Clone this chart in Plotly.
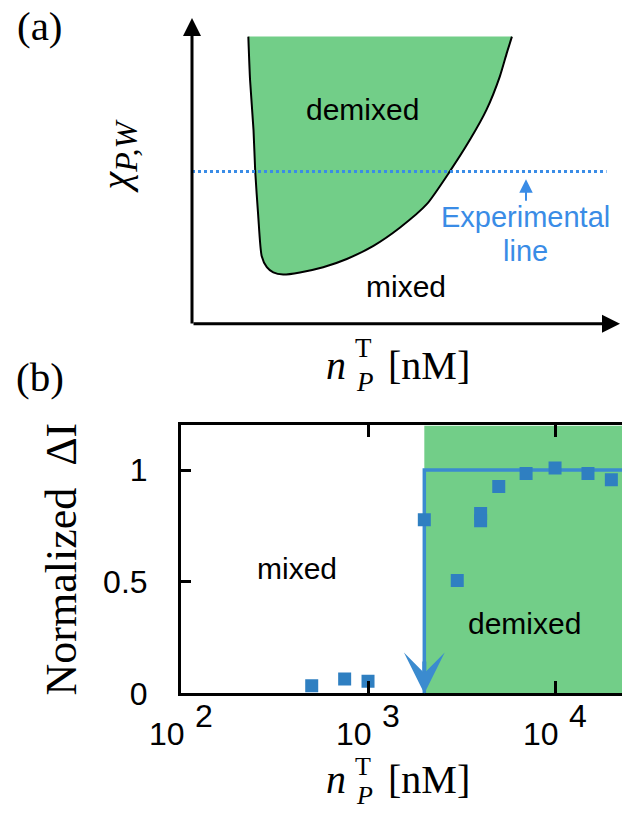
import math
import plotly.graph_objects as go

W, H = 622, 823
H_EFF = 808  # height the page is actually drawn at


def px(x):
    return x / W


def py(y):
    return 1 - y / H_EFF


# ---------------- Panel (b) data ----------------
conc_nM = [500, 750, 1000, 2000, 3000, 4000, 4000, 5000, 7000, 10000, 15000, 20000]
norm_dI = [0.034, 0.064, 0.054, 0.778, 0.506, 0.806, 0.773, 0.927, 0.985, 1.009, 0.985, 0.957]
transition_nM = 2000
step_level = 1.0
x_tick_vals = [1e2, 1e3, 1e4]
y_tick_vals = [0, 0.5, 1]
y_tick_text = ["0", "0.5", "1"]
x_range_log = [2, 4.358]
y_range = [0, 1.2]

# ---------------- Panel (a) schematic data (arbitrary units 0-100) ----------------
boundary_n = [13.1, 13.5, 14.3, 14.7, 15.4, 16.2, 17.4, 18.9, 21.2, 25.1, 30.5,
              36.0, 42.2, 48.4, 54.6, 60.0, 64.7, 68.5, 71.6, 73.2, 74.4]
boundary_chi = [93.9, 79.8, 63.5, 49.9, 35.3, 22.2, 18.5, 16.8, 16.1, 16.8, 18.5,
                21.2, 25.5, 31.5, 39.1, 49.9, 60.3, 70.0, 80.9, 88.5, 93.9]
chi_exp = 49.8
exp_line_n = [0, 96.4]

GREEN = "#72CE88"
MARK = "#2F7FC1"
STEP = "#3B8BCF"
EXPBLUE = "#3A8CE6"
SANS = "Liberation Sans, Arial, sans-serif"
SERIF = "Liberation Serif, Times New Roman, serif"

fig = go.Figure()

# ---- panel (b) ----
xmax = 10 ** x_range_log[1] * 1.5
fig.add_trace(go.Scatter(
    x=[transition_nM, xmax, xmax, transition_nM], y=[0, 0, y_range[1], y_range[1]],
    fill="toself", fillcolor=GREEN, mode="lines", line=dict(width=0),
    hoverinfo="skip", showlegend=False, xaxis="x", yaxis="y"))
fig.add_trace(go.Scatter(
    x=[transition_nM, transition_nM, xmax], y=[0, step_level, step_level],
    mode="lines", line=dict(color=STEP, width=3.5), hoverinfo="skip",
    showlegend=False, xaxis="x", yaxis="y"))
fig.add_trace(go.Scatter(
    x=conc_nM, y=norm_dI, mode="markers",
    marker=dict(symbol="square", size=13, color=MARK, line=dict(width=0)),
    showlegend=False, xaxis="x", yaxis="y"))

# ---- panel (a) ----
fig.add_trace(go.Scatter(
    x=boundary_n, y=boundary_chi, fill="toself", fillcolor=GREEN, mode="lines",
    line=dict(width=0, shape="spline", smoothing=0.6), hoverinfo="skip",
    showlegend=False, xaxis="x2", yaxis="y2"))
fig.add_trace(go.Scatter(
    x=boundary_n, y=boundary_chi, mode="lines",
    line=dict(color="black", width=2, shape="spline", smoothing=0.6),
    hoverinfo="skip", showlegend=False, xaxis="x2", yaxis="y2"))
fig.add_trace(go.Scatter(
    x=exp_line_n, y=[chi_exp, chi_exp], mode="lines",
    line=dict(color=EXPBLUE, width=3, dash="3px,3px"),
    hoverinfo="skip", showlegend=False, xaxis="x2", yaxis="y2"))

ann = []


def text(t, x, y, size, family=SANS, color="black", angle=0, xref="paper", xshift=0):
    ann.append(dict(text=t, x=x, y=y, xref=xref, yref="paper", showarrow=False,
                    font=dict(size=size, family=family, color=color),
                    xanchor="center", yanchor="middle", textangle=angle,
                    xshift=xshift))


# x tick labels of panel (b): "10" with raised exponent
for v in x_tick_vals:
    e = int(round(math.log10(v)))
    text("10", e, py(737), 32, xref="x", xshift=-14.5)
    text(str(e), e, py(719), 32, xref="x", xshift=23)

# panel (b) labels
text("mixed", px(296.5), py(571), 30)
text("demixed", px(524.5), py(626), 30)
text("Normalized\u00a0\u00a0ΔI", px(61), py(561.5), 44, family=SERIF, angle=-90)

# n_P^T [nM] labels (bottom of b and top = x label of a)
for base, t_off, p_off, fs_s in ((796, 17.5, 11.5, 26), (380, 22, 13, 27)):
    text("<i>n</i>", px(336), py(base - 13.6), 40, family=SERIF)
    text("T", px(363), py(base - t_off - 0.3375 * fs_s), fs_s, family=SERIF)
    text("<i>P</i>", px(364.5), py(base + p_off - 0.3375 * fs_s), fs_s, family=SERIF)
    text("[nM]", px(428.5), py(base - 13.6), 40, family=SERIF)

# panel labels
text("(a)", px(39.5), py(26.5), 41, family=SERIF)
text("(b)", px(39.5), py(378.5), 41, family=SERIF)

# panel (a) texts
text("demixed", px(362.5), py(109.5), 30)
text("mixed", px(405.5), py(287.5), 30)
text("Experimental", px(525), py(218), 29, color=EXPBLUE)
text("line", px(525.5), py(252), 29, color=EXPBLUE)
text("<i>χ</i><sub><span style='font-size:32px'><i>P,W</i></span></sub>",
     px(118), py(157), 40, family=SERIF, angle=-90)

# arrows
ann.append(dict(x=px(192), y=py(18), xref="paper", yref="paper", ax=0, ay=307,
                text="", showarrow=True, arrowhead=2, arrowsize=1.2, arrowwidth=3,
                arrowcolor="black"))
ann.append(dict(x=px(620), y=py(325), xref="paper", yref="paper", ax=-428, ay=0,
                text="", showarrow=True, arrowhead=2, arrowsize=1.2, arrowwidth=3,
                arrowcolor="black"))
ann.append(dict(x=px(526), y=py(180), xref="paper", yref="paper", ax=0, ay=23,
                text="", showarrow=True, arrowhead=2, arrowsize=1.35, arrowwidth=2,
                arrowcolor=EXPBLUE))
ann.append(dict(x=math.log10(transition_nM), y=0, xref="x", yref="y",
                axref="x", ayref="y", ax=math.log10(transition_nM), ay=0.15,
                text="", showarrow=True, arrowhead=3, arrowsize=1.7, arrowwidth=4,
                arrowcolor=STEP))

fig.update_layout(
    width=W, height=H, margin=dict(l=0, r=0, t=0, b=0),
    paper_bgcolor="white", plot_bgcolor="rgba(0,0,0,0)",
    showlegend=False, annotations=ann,
    xaxis=dict(domain=[px(181), 1], anchor="y", type="log", range=x_range_log,
               tickvals=x_tick_vals, showticklabels=False, ticks="inside",
               ticklen=12, tickwidth=3, tickcolor="black", showline=True,
               linewidth=3, linecolor="black", mirror="ticks", showgrid=False,
               zeroline=False),
    yaxis=dict(domain=[py(696), py(427)], anchor="x", range=y_range,
               tickvals=y_tick_vals, ticktext=y_tick_text, ticks="inside",
               ticklen=10, tickwidth=3, tickcolor="black", showline=True,
               linewidth=3, linecolor="black", showgrid=False, zeroline=False,
               tickfont=dict(family=SANS, size=32, color="black"),
               ticklabelstandoff=24),
    xaxis2=dict(domain=[px(192), 1], anchor="y2", range=[0, 100], visible=False),
    yaxis2=dict(domain=[py(325), py(18)], anchor="x2", range=[0, 100], visible=False),
)

fig.write_html("out.html")
